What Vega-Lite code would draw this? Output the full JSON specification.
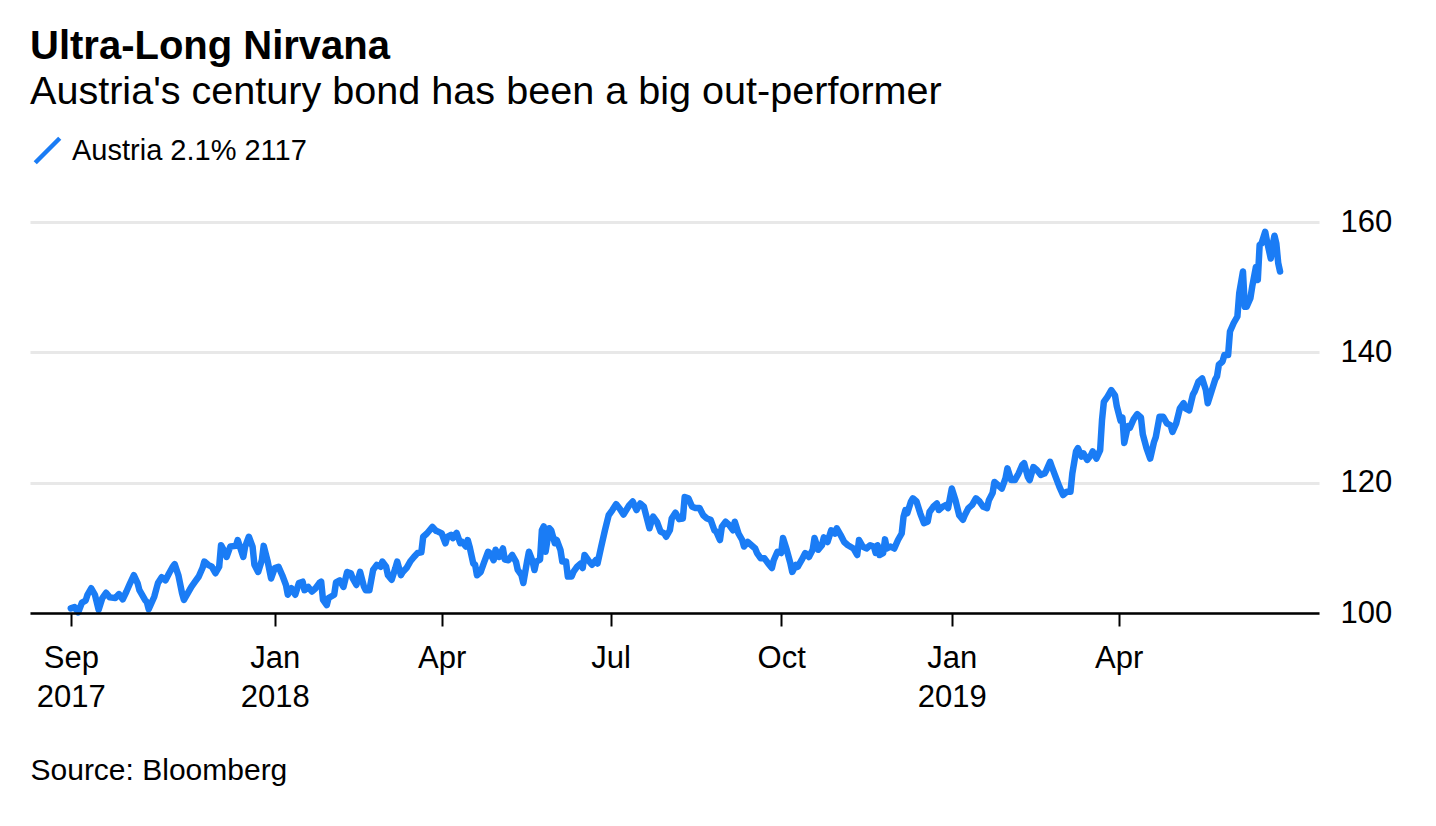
{
  "$schema": "https://vega.github.io/schema/vega-lite/v6.json",
  "width": 1289,
  "height": 391,
  "autosize": {"type": "none"},
  "padding": {"left": 30, "top": 222, "right": 117, "bottom": 213},
  "background": "#ffffff",
  "title": {
    "text": "Ultra-Long Nirvana",
    "subtitle": "Austria's century bond has been a big out-performer",
    "anchor": "start",
    "frame": "group",
    "font": "Liberation Sans",
    "fontSize": 40,
    "fontWeight": "bold",
    "color": "#000000",
    "subtitleFont": "Liberation Sans",
    "subtitleFontSize": 39.6,
    "subtitleColor": "#000000",
    "subtitlePadding": 6,
    "offset": 24
  },
  "config": {
    "view": {"stroke": null},
    "font": "Liberation Sans"
  },
  "data": {
    "values": [
      {"d": "2017-09-13", "v": 100.7}, {"d": "2017-09-15", "v": 100.9}, {"d": "2017-09-17", "v": 100.1}, {"d": "2017-09-19", "v": 101.6},
      {"d": "2017-09-21", "v": 101.9}, {"d": "2017-09-22", "v": 102.8}, {"d": "2017-09-24", "v": 103.8}, {"d": "2017-09-26", "v": 102.8},
      {"d": "2017-09-28", "v": 100.5}, {"d": "2017-09-30", "v": 102.3}, {"d": "2017-10-02", "v": 103.1}, {"d": "2017-10-04", "v": 102.4},
      {"d": "2017-10-07", "v": 102.3}, {"d": "2017-10-09", "v": 102.9}, {"d": "2017-10-11", "v": 102.1}, {"d": "2017-10-13", "v": 103.3},
      {"d": "2017-10-15", "v": 104.6}, {"d": "2017-10-17", "v": 105.8}, {"d": "2017-10-19", "v": 104.6}, {"d": "2017-10-20", "v": 103.5},
      {"d": "2017-10-23", "v": 102.0}, {"d": "2017-10-24", "v": 101.7}, {"d": "2017-10-25", "v": 100.6}, {"d": "2017-10-28", "v": 102.5},
      {"d": "2017-10-30", "v": 104.6}, {"d": "2017-11-01", "v": 105.5}, {"d": "2017-11-03", "v": 105.0}, {"d": "2017-11-05", "v": 106.1},
      {"d": "2017-11-07", "v": 107.1}, {"d": "2017-11-08", "v": 107.5}, {"d": "2017-11-10", "v": 105.8}, {"d": "2017-11-12", "v": 103.0},
      {"d": "2017-11-13", "v": 102.0}, {"d": "2017-11-15", "v": 103.0}, {"d": "2017-11-17", "v": 104.0}, {"d": "2017-11-19", "v": 104.8},
      {"d": "2017-11-21", "v": 105.6}, {"d": "2017-11-23", "v": 106.9}, {"d": "2017-11-24", "v": 107.9}, {"d": "2017-11-26", "v": 107.4},
      {"d": "2017-11-28", "v": 107.1}, {"d": "2017-11-30", "v": 106.1}, {"d": "2017-12-02", "v": 107.1}, {"d": "2017-12-03", "v": 110.4},
      {"d": "2017-12-05", "v": 109.4}, {"d": "2017-12-06", "v": 108.6}, {"d": "2017-12-08", "v": 110.2}, {"d": "2017-12-11", "v": 110.3},
      {"d": "2017-12-12", "v": 111.2}, {"d": "2017-12-15", "v": 108.6}, {"d": "2017-12-16", "v": 110.2}, {"d": "2017-12-18", "v": 111.7},
      {"d": "2017-12-20", "v": 110.2}, {"d": "2017-12-21", "v": 107.4}, {"d": "2017-12-23", "v": 106.3}, {"d": "2017-12-25", "v": 108.1},
      {"d": "2017-12-26", "v": 110.3}, {"d": "2017-12-28", "v": 108.1}, {"d": "2017-12-30", "v": 105.3}, {"d": "2018-01-01", "v": 106.9},
      {"d": "2018-01-03", "v": 107.1}, {"d": "2018-01-05", "v": 105.8}, {"d": "2018-01-07", "v": 104.3}, {"d": "2018-01-08", "v": 102.8},
      {"d": "2018-01-10", "v": 103.8}, {"d": "2018-01-12", "v": 102.8}, {"d": "2018-01-14", "v": 104.6}, {"d": "2018-01-16", "v": 104.8},
      {"d": "2018-01-17", "v": 103.5}, {"d": "2018-01-19", "v": 104.0}, {"d": "2018-01-21", "v": 103.3}, {"d": "2018-01-23", "v": 103.8},
      {"d": "2018-01-25", "v": 104.6}, {"d": "2018-01-26", "v": 104.8}, {"d": "2018-01-27", "v": 102.0}, {"d": "2018-01-29", "v": 101.2},
      {"d": "2018-01-30", "v": 102.3}, {"d": "2018-02-02", "v": 102.8}, {"d": "2018-02-03", "v": 104.7}, {"d": "2018-02-05", "v": 105.0},
      {"d": "2018-02-07", "v": 104.0}, {"d": "2018-02-09", "v": 106.3}, {"d": "2018-02-11", "v": 106.1}, {"d": "2018-02-12", "v": 105.3},
      {"d": "2018-02-14", "v": 104.3}, {"d": "2018-02-16", "v": 106.3}, {"d": "2018-02-18", "v": 104.1}, {"d": "2018-02-19", "v": 103.5},
      {"d": "2018-02-21", "v": 103.5}, {"d": "2018-02-23", "v": 106.6}, {"d": "2018-02-25", "v": 107.4}, {"d": "2018-02-27", "v": 107.1},
      {"d": "2018-02-28", "v": 107.9}, {"d": "2018-03-02", "v": 107.1}, {"d": "2018-03-03", "v": 105.8}, {"d": "2018-03-05", "v": 105.1},
      {"d": "2018-03-07", "v": 106.9}, {"d": "2018-03-08", "v": 107.9}, {"d": "2018-03-10", "v": 105.8}, {"d": "2018-03-11", "v": 106.3},
      {"d": "2018-03-13", "v": 106.9}, {"d": "2018-03-15", "v": 107.9}, {"d": "2018-03-17", "v": 108.6}, {"d": "2018-03-19", "v": 109.2},
      {"d": "2018-03-21", "v": 109.3}, {"d": "2018-03-22", "v": 111.7}, {"d": "2018-03-24", "v": 112.2}, {"d": "2018-03-27", "v": 113.2},
      {"d": "2018-03-29", "v": 112.6}, {"d": "2018-03-30", "v": 112.5}, {"d": "2018-04-01", "v": 112.2}, {"d": "2018-04-03", "v": 110.7},
      {"d": "2018-04-04", "v": 111.7}, {"d": "2018-04-06", "v": 112.0}, {"d": "2018-04-07", "v": 111.5}, {"d": "2018-04-09", "v": 112.3},
      {"d": "2018-04-11", "v": 110.7}, {"d": "2018-04-12", "v": 110.9}, {"d": "2018-04-14", "v": 110.2}, {"d": "2018-04-15", "v": 111.2},
      {"d": "2018-04-16", "v": 110.2}, {"d": "2018-04-18", "v": 107.6}, {"d": "2018-04-19", "v": 107.4}, {"d": "2018-04-20", "v": 105.8},
      {"d": "2018-04-22", "v": 106.3}, {"d": "2018-04-24", "v": 107.9}, {"d": "2018-04-26", "v": 109.4}, {"d": "2018-04-27", "v": 109.2},
      {"d": "2018-04-29", "v": 108.1}, {"d": "2018-04-30", "v": 109.7}, {"d": "2018-05-02", "v": 108.6}, {"d": "2018-05-04", "v": 109.9},
      {"d": "2018-05-05", "v": 108.2}, {"d": "2018-05-07", "v": 108.1}, {"d": "2018-05-09", "v": 108.9}, {"d": "2018-05-11", "v": 107.9},
      {"d": "2018-05-12", "v": 106.6}, {"d": "2018-05-14", "v": 105.8}, {"d": "2018-05-15", "v": 104.6}, {"d": "2018-05-17", "v": 107.9},
      {"d": "2018-05-18", "v": 109.4}, {"d": "2018-05-20", "v": 107.9}, {"d": "2018-05-21", "v": 106.6}, {"d": "2018-05-22", "v": 107.9},
      {"d": "2018-05-24", "v": 108.2}, {"d": "2018-05-25", "v": 112.7}, {"d": "2018-05-26", "v": 113.3}, {"d": "2018-05-27", "v": 109.4},
      {"d": "2018-05-29", "v": 113.0}, {"d": "2018-05-30", "v": 112.7}, {"d": "2018-06-01", "v": 110.7}, {"d": "2018-06-02", "v": 111.2},
      {"d": "2018-06-04", "v": 109.7}, {"d": "2018-06-05", "v": 107.9}, {"d": "2018-06-07", "v": 107.9}, {"d": "2018-06-08", "v": 105.6},
      {"d": "2018-06-10", "v": 105.6}, {"d": "2018-06-11", "v": 106.3}, {"d": "2018-06-13", "v": 107.1}, {"d": "2018-06-15", "v": 107.6},
      {"d": "2018-06-16", "v": 106.9}, {"d": "2018-06-17", "v": 108.9}, {"d": "2018-06-19", "v": 108.1}, {"d": "2018-06-21", "v": 107.4},
      {"d": "2018-06-23", "v": 108.1}, {"d": "2018-06-24", "v": 107.6}, {"d": "2018-06-26", "v": 110.2}, {"d": "2018-06-28", "v": 112.7},
      {"d": "2018-06-30", "v": 115.0}, {"d": "2018-07-02", "v": 115.8}, {"d": "2018-07-04", "v": 116.7}, {"d": "2018-07-06", "v": 116.0},
      {"d": "2018-07-08", "v": 115.1}, {"d": "2018-07-11", "v": 116.5}, {"d": "2018-07-13", "v": 117.1}, {"d": "2018-07-15", "v": 115.8},
      {"d": "2018-07-17", "v": 116.8}, {"d": "2018-07-19", "v": 116.3}, {"d": "2018-07-22", "v": 113.0}, {"d": "2018-07-23", "v": 114.0},
      {"d": "2018-07-24", "v": 114.8}, {"d": "2018-07-26", "v": 114.0}, {"d": "2018-07-28", "v": 112.5}, {"d": "2018-07-30", "v": 112.2},
      {"d": "2018-07-31", "v": 111.7}, {"d": "2018-08-02", "v": 112.7}, {"d": "2018-08-03", "v": 114.5}, {"d": "2018-08-05", "v": 115.4},
      {"d": "2018-08-07", "v": 114.4}, {"d": "2018-08-09", "v": 114.5}, {"d": "2018-08-10", "v": 117.8}, {"d": "2018-08-12", "v": 117.6},
      {"d": "2018-08-14", "v": 116.3}, {"d": "2018-08-16", "v": 116.1}, {"d": "2018-08-18", "v": 116.1}, {"d": "2018-08-20", "v": 115.0},
      {"d": "2018-08-22", "v": 114.5}, {"d": "2018-08-24", "v": 114.3}, {"d": "2018-08-26", "v": 112.7}, {"d": "2018-08-27", "v": 112.5},
      {"d": "2018-08-29", "v": 111.2}, {"d": "2018-08-30", "v": 113.2}, {"d": "2018-09-01", "v": 114.0}, {"d": "2018-09-03", "v": 113.5},
      {"d": "2018-09-05", "v": 112.7}, {"d": "2018-09-06", "v": 114.0}, {"d": "2018-09-08", "v": 112.2}, {"d": "2018-09-10", "v": 111.2},
      {"d": "2018-09-11", "v": 110.2}, {"d": "2018-09-13", "v": 110.9}, {"d": "2018-09-15", "v": 110.4}, {"d": "2018-09-17", "v": 109.9},
      {"d": "2018-09-18", "v": 109.2}, {"d": "2018-09-20", "v": 108.4}, {"d": "2018-09-22", "v": 108.4}, {"d": "2018-09-24", "v": 107.6},
      {"d": "2018-09-26", "v": 106.9}, {"d": "2018-09-27", "v": 108.1}, {"d": "2018-09-29", "v": 109.4}, {"d": "2018-10-01", "v": 109.2},
      {"d": "2018-10-02", "v": 111.5}, {"d": "2018-10-04", "v": 109.7}, {"d": "2018-10-06", "v": 107.6}, {"d": "2018-10-07", "v": 106.3},
      {"d": "2018-10-09", "v": 107.4}, {"d": "2018-10-10", "v": 107.1}, {"d": "2018-10-12", "v": 108.1}, {"d": "2018-10-14", "v": 109.2},
      {"d": "2018-10-16", "v": 108.6}, {"d": "2018-10-18", "v": 109.7}, {"d": "2018-10-19", "v": 111.5}, {"d": "2018-10-21", "v": 109.7},
      {"d": "2018-10-23", "v": 110.4}, {"d": "2018-10-24", "v": 111.6}, {"d": "2018-10-26", "v": 110.9}, {"d": "2018-10-28", "v": 112.7},
      {"d": "2018-10-30", "v": 112.2}, {"d": "2018-10-31", "v": 113.0}, {"d": "2018-11-02", "v": 112.0}, {"d": "2018-11-04", "v": 110.9},
      {"d": "2018-11-06", "v": 110.4}, {"d": "2018-11-09", "v": 109.9}, {"d": "2018-11-11", "v": 108.9}, {"d": "2018-11-12", "v": 111.2},
      {"d": "2018-11-14", "v": 110.2}, {"d": "2018-11-16", "v": 109.9}, {"d": "2018-11-18", "v": 110.4}, {"d": "2018-11-20", "v": 110.2},
      {"d": "2018-11-21", "v": 109.2}, {"d": "2018-11-22", "v": 110.4}, {"d": "2018-11-23", "v": 108.9}, {"d": "2018-11-25", "v": 109.2},
      {"d": "2018-11-26", "v": 111.3}, {"d": "2018-11-27", "v": 109.9}, {"d": "2018-11-29", "v": 110.2}, {"d": "2018-12-01", "v": 109.9},
      {"d": "2018-12-03", "v": 111.2}, {"d": "2018-12-05", "v": 112.2}, {"d": "2018-12-06", "v": 114.8}, {"d": "2018-12-07", "v": 115.8},
      {"d": "2018-12-08", "v": 115.3}, {"d": "2018-12-10", "v": 117.1}, {"d": "2018-12-11", "v": 117.6}, {"d": "2018-12-13", "v": 117.1},
      {"d": "2018-12-15", "v": 115.3}, {"d": "2018-12-17", "v": 113.8}, {"d": "2018-12-19", "v": 114.0}, {"d": "2018-12-20", "v": 115.5},
      {"d": "2018-12-22", "v": 116.3}, {"d": "2018-12-24", "v": 116.8}, {"d": "2018-12-25", "v": 115.8}, {"d": "2018-12-27", "v": 116.3},
      {"d": "2018-12-29", "v": 116.6}, {"d": "2018-12-30", "v": 116.1}, {"d": "2019-01-01", "v": 119.1}, {"d": "2019-01-03", "v": 117.3},
      {"d": "2019-01-05", "v": 115.0}, {"d": "2019-01-07", "v": 114.3}, {"d": "2019-01-08", "v": 115.0}, {"d": "2019-01-10", "v": 116.1},
      {"d": "2019-01-12", "v": 116.6}, {"d": "2019-01-14", "v": 117.6}, {"d": "2019-01-16", "v": 117.1}, {"d": "2019-01-18", "v": 116.3},
      {"d": "2019-01-20", "v": 116.1}, {"d": "2019-01-21", "v": 117.3}, {"d": "2019-01-23", "v": 118.4}, {"d": "2019-01-24", "v": 120.1},
      {"d": "2019-01-26", "v": 119.6}, {"d": "2019-01-28", "v": 119.1}, {"d": "2019-01-30", "v": 120.7}, {"d": "2019-01-31", "v": 122.2},
      {"d": "2019-02-02", "v": 120.4}, {"d": "2019-02-04", "v": 120.4}, {"d": "2019-02-06", "v": 121.4}, {"d": "2019-02-08", "v": 122.7},
      {"d": "2019-02-09", "v": 123.0}, {"d": "2019-02-11", "v": 120.9}, {"d": "2019-02-12", "v": 120.4}, {"d": "2019-02-14", "v": 122.4},
      {"d": "2019-02-16", "v": 121.9}, {"d": "2019-02-18", "v": 121.2}, {"d": "2019-02-20", "v": 121.4}, {"d": "2019-02-21", "v": 121.9},
      {"d": "2019-02-23", "v": 123.2}, {"d": "2019-02-24", "v": 122.4}, {"d": "2019-02-26", "v": 120.9}, {"d": "2019-02-28", "v": 119.4},
      {"d": "2019-03-02", "v": 118.1}, {"d": "2019-03-04", "v": 118.6}, {"d": "2019-03-06", "v": 118.6}, {"d": "2019-03-07", "v": 121.4},
      {"d": "2019-03-09", "v": 124.8}, {"d": "2019-03-10", "v": 125.3}, {"d": "2019-03-12", "v": 124.0}, {"d": "2019-03-13", "v": 124.5},
      {"d": "2019-03-15", "v": 123.5}, {"d": "2019-03-17", "v": 124.2}, {"d": "2019-03-18", "v": 124.8}, {"d": "2019-03-20", "v": 123.7},
      {"d": "2019-03-22", "v": 125.0}, {"d": "2019-03-23", "v": 129.6}, {"d": "2019-03-24", "v": 132.4}, {"d": "2019-03-26", "v": 133.2},
      {"d": "2019-03-28", "v": 134.2}, {"d": "2019-03-30", "v": 133.4}, {"d": "2019-03-31", "v": 131.7}, {"d": "2019-04-02", "v": 129.5},
      {"d": "2019-04-03", "v": 130.0}, {"d": "2019-04-04", "v": 126.1}, {"d": "2019-04-06", "v": 128.7}, {"d": "2019-04-07", "v": 128.4},
      {"d": "2019-04-09", "v": 129.7}, {"d": "2019-04-11", "v": 130.5}, {"d": "2019-04-13", "v": 130.0}, {"d": "2019-04-14", "v": 127.4},
      {"d": "2019-04-16", "v": 125.3}, {"d": "2019-04-18", "v": 123.7}, {"d": "2019-04-20", "v": 126.2}, {"d": "2019-04-21", "v": 127.0},
      {"d": "2019-04-23", "v": 130.1}, {"d": "2019-04-25", "v": 130.1}, {"d": "2019-04-27", "v": 129.1}, {"d": "2019-04-29", "v": 128.8},
      {"d": "2019-04-30", "v": 127.8}, {"d": "2019-05-02", "v": 129.1}, {"d": "2019-05-04", "v": 131.4}, {"d": "2019-05-06", "v": 132.2},
      {"d": "2019-05-07", "v": 131.4}, {"d": "2019-05-09", "v": 131.1}, {"d": "2019-05-11", "v": 133.5}, {"d": "2019-05-12", "v": 134.0},
      {"d": "2019-05-14", "v": 135.5}, {"d": "2019-05-16", "v": 136.0}, {"d": "2019-05-18", "v": 134.2}, {"d": "2019-05-19", "v": 132.2},
      {"d": "2019-05-21", "v": 134.0}, {"d": "2019-05-23", "v": 135.8}, {"d": "2019-05-24", "v": 136.3}, {"d": "2019-05-25", "v": 138.1},
      {"d": "2019-05-27", "v": 138.6}, {"d": "2019-05-28", "v": 139.6}, {"d": "2019-05-30", "v": 139.6}, {"d": "2019-05-31", "v": 143.2},
      {"d": "2019-06-02", "v": 144.5}, {"d": "2019-06-04", "v": 145.5}, {"d": "2019-06-05", "v": 149.1}, {"d": "2019-06-07", "v": 152.4},
      {"d": "2019-06-08", "v": 147.0}, {"d": "2019-06-09", "v": 147.0}, {"d": "2019-06-11", "v": 148.3}, {"d": "2019-06-12", "v": 150.1},
      {"d": "2019-06-14", "v": 153.1}, {"d": "2019-06-15", "v": 151.1}, {"d": "2019-06-16", "v": 156.5}, {"d": "2019-06-17", "v": 156.7},
      {"d": "2019-06-19", "v": 158.5}, {"d": "2019-06-20", "v": 157.0}, {"d": "2019-06-22", "v": 154.4}, {"d": "2019-06-23", "v": 156.5},
      {"d": "2019-06-24", "v": 157.9}, {"d": "2019-06-25", "v": 156.7}, {"d": "2019-06-26", "v": 153.7}, {"d": "2019-06-27", "v": 152.4}
    ]
  },
  "mark": {"type": "line", "strokeWidth": 6.5, "strokeJoin": "round", "strokeCap": "round"},
  "encoding": {
    "x": {
      "field": "d",
      "type": "temporal",
      "scale": {
        "type": "utc",
        "domain": [
          {"year": 2017, "month": 8, "date": 22, "utc": true},
          {"year": 2019, "month": 7, "date": 18, "utc": true}
        ]
      },
      "axis": {
        "orient": "bottom",
        "values": [
          {"year": 2017, "month": 9, "date": 13, "utc": true},
          {"year": 2018, "month": 1, "date": 1, "utc": true},
          {"year": 2018, "month": 4, "date": 1, "utc": true},
          {"year": 2018, "month": 7, "date": 1, "utc": true},
          {"year": 2018, "month": 10, "date": 1, "utc": true},
          {"year": 2019, "month": 1, "date": 1, "utc": true},
          {"year": 2019, "month": 4, "date": 1, "utc": true}
        ],
        "labelExpr": "(utcmonth(datum.value) == 0 || utcmonth(datum.value) == 8) ? [utcFormat(datum.value, '%b'), utcFormat(datum.value, '%Y')] : utcFormat(datum.value, '%b')",
        "grid": false,
        "domain": true,
        "domainColor": "#000000",
        "domainWidth": 2.5,
        "ticks": true,
        "tickColor": "#000000",
        "tickWidth": 2,
        "tickSize": 13,
        "labelFont": "Liberation Sans",
        "labelFontSize": 31,
        "labelColor": "#000000",
        "labelPadding": 17,
        "labelLineHeight": 39,
        "labelFlush": false,
        "labelOverlap": false,
        "zindex": 1,
        "title": "Source: Bloomberg",
        "titleFont": "Liberation Sans",
        "titleFontSize": 30,
        "titleFontWeight": "normal",
        "titleColor": "#000000",
        "titleAnchor": "start",
        "titleAlign": "left",
        "titleBaseline": "alphabetic",
        "titleX": 0,
        "titleY": 166
      }
    },
    "y": {
      "field": "v",
      "type": "quantitative",
      "scale": {"domain": [100, 160], "zero": false, "nice": false},
      "axis": {
        "orient": "right",
        "values": [100, 120, 140, 160],
        "domain": false,
        "ticks": false,
        "grid": true,
        "gridColor": "#e8e8e8",
        "gridWidth": 3,
        "labelFont": "Liberation Sans",
        "labelFontSize": 31,
        "labelColor": "#000000",
        "labelPadding": 21,
        "title": null
      }
    },
    "color": {
      "datum": "Austria 2.1% 2117",
      "type": "nominal",
      "scale": {"range": ["#1a7cf5"]},
      "legend": {
        "orient": "none",
        "legendX": 3,
        "legendY": -86,
        "title": null,
        "padding": 0,
        "symbolType": "M-1,1L1,-1",
        "symbolSize": 600,
        "symbolStrokeWidth": 4.5,
        "symbolStrokeColor": "#1a7cf5",
        "symbolFillColor": "transparent",
        "labelFont": "Liberation Sans",
        "labelFontSize": 29,
        "labelColor": "#000000",
        "labelOffset": 10,
        "labelLimit": 0
      }
    }
  }
}
